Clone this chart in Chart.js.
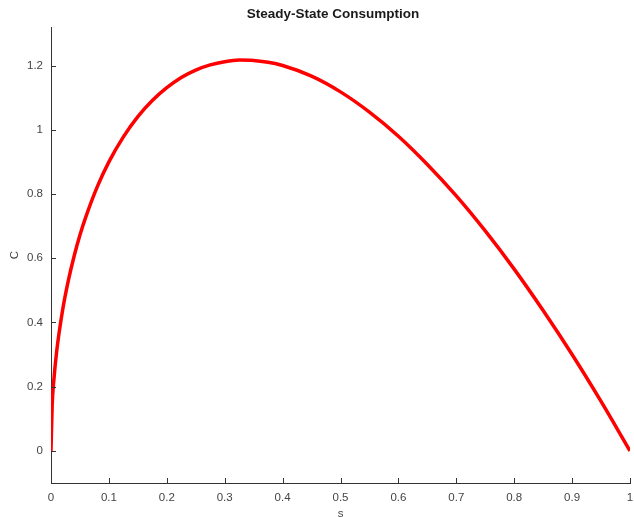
<!DOCTYPE html>
<html>
<head>
<meta charset="utf-8">
<script src="https://cdn.jsdelivr.net/npm/chart.js@4/dist/chart.umd.min.js"></script>
<style>
  html, body { margin: 0; padding: 0; background: #fff; }
  #wrap { width: 634px; height: 517px; }
</style>
</head>
<body>
<div id="wrap"><canvas id="chart"></canvas></div>
<script>
// savings rate s and steady-state consumption C
var savingsRate = [0, 0.002, 0.005, 0.01, 0.02, 0.03, 0.04, 0.05, 0.06, 0.08, 0.1, 0.125, 0.15, 0.175, 0.2, 0.225,
                   0.25, 0.275, 0.3, 0.325, 0.35, 0.375, 0.4, 0.45, 0.5, 0.55, 0.6, 0.65, 0.7, 0.75, 0.8, 0.85, 0.9, 0.95, 1];
var consumption = [0, 0.141, 0.222, 0.313, 0.438, 0.531, 0.607, 0.672, 0.728, 0.823, 0.9, 0.978, 1.041, 1.091, 1.131, 1.163,
                   1.186, 1.202, 1.212, 1.217, 1.216, 1.21, 1.2, 1.167, 1.118, 1.055, 0.98, 0.892, 0.794, 0.685, 0.566, 0.437, 0.3, 0.154, 0];

var xTicks = [0, 0.1, 0.2, 0.3, 0.4, 0.5, 0.6, 0.7, 0.8, 0.9, 1];
var yTicks = [0, 0.2, 0.4, 0.6, 0.8, 1, 1.2];
var chartTitle = 'Steady-State Consumption';

var points = [];
for (var i = 0; i < savingsRate.length; i++) {
  points.push({ x: savingsRate[i], y: consumption[i] });
}

// matlab style: short tick marks pointing into the plot, title centred a bit right
var matlabLook = {
  id: 'matlabLook',
  afterDraw: function(chart) {
    var ctx = chart.ctx;
    var area = chart.chartArea;
    var xs = chart.scales.x, ys = chart.scales.y;
    ctx.save();
    ctx.strokeStyle = '#333';
    ctx.lineWidth = 1;
    ctx.beginPath();
    xTicks.forEach(function(v) {
      var px = Math.round(xs.getPixelForValue(v)) + 0.5;
      ctx.moveTo(px, area.bottom);
      ctx.lineTo(px, area.bottom - 5);
    });
    yTicks.forEach(function(v) {
      var py = Math.round(ys.getPixelForValue(v)) + 0.5;
      ctx.moveTo(area.left, py);
      ctx.lineTo(area.left + 5, py);
    });
    ctx.stroke();

    ctx.fillStyle = '#1a1a1a';
    ctx.font = 'bold 13.5px "Liberation Sans", Arial, sans-serif';
    ctx.textAlign = 'center';
    ctx.textBaseline = 'middle';
    ctx.fillText(chartTitle, 333, 14);
    ctx.restore();
  }
};

var tickFont = { family: 'Liberation Sans, Arial, sans-serif', size: 11.5 };

new Chart(document.getElementById('chart'), {
  type: 'line',
  data: {
    datasets: [{
      data: points,
      borderColor: '#ff0000',
      borderWidth: 3.5,
      pointRadius: 0,
      fill: false,
      cubicInterpolationMode: 'monotone'
    }]
  },
  options: {
    responsive: true,
    maintainAspectRatio: false,
    animation: false,
    layout: { padding: { left: 0, right: 4, top: 27, bottom: 0 } },
    plugins: {
      legend: { display: false },
      tooltip: { enabled: false },
      title: { display: false }
    },
    scales: {
      x: {
        type: 'linear',
        min: 0,
        max: 1,
        afterBuildTicks: function(scale) {
          scale.ticks = xTicks.map(function(v) { return { value: v }; });
        },
        afterFit: function(scale) {
          scale.height = 34;
          scale.paddingRight = 0;
          scale.paddingLeft = 0;
        },
        grid: { display: false, drawTicks: false },
        border: { display: true, color: '#333', width: 1 },
        ticks: {
          color: '#444', font: tickFont, padding: 8, maxRotation: 0,
          callback: function(v) { return String(v); }
        },
        title: { display: true, text: 's', color: '#444', font: tickFont, padding: { top: 0, bottom: -4 } }
      },
      y: {
        type: 'linear',
        min: -0.1,
        max: 1.32,
        afterBuildTicks: function(scale) {
          scale.ticks = yTicks.map(function(v) { return { value: v }; });
        },
        afterFit: function(scale) { scale.width = 51; },
        grid: { display: false, drawTicks: false },
        border: { display: true, color: '#333', width: 1 },
        ticks: {
          color: '#444', font: tickFont, padding: 8,
          callback: function(v) { return String(v); }
        },
        title: { display: true, text: 'C', color: '#444', font: tickFont, padding: { top: 8, bottom: 0 } }
      }
    }
  },
  plugins: [matlabLook]
});
</script>
</body>
</html>
